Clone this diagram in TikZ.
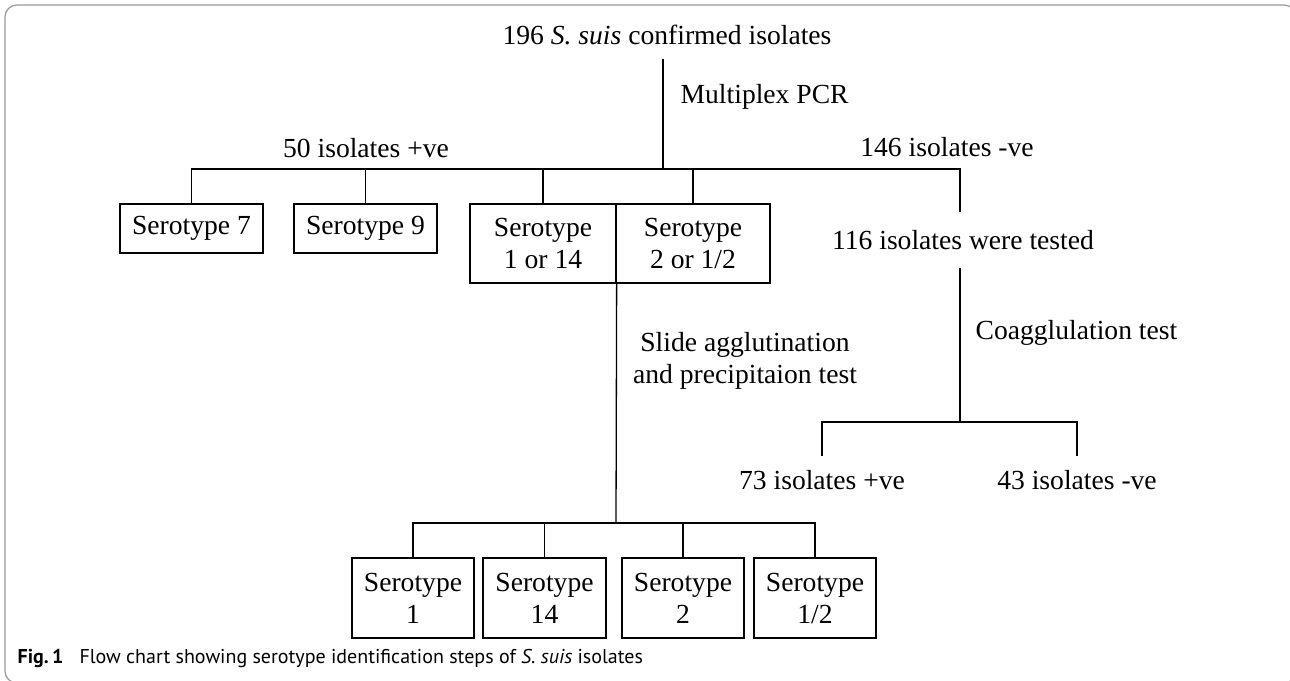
\documentclass[tikz,border=0pt]{standalone}
\usepackage{fontspec}
\setmainfont{Liberation Serif}
\newfontfamily\capfont{PT Sans}
\usepackage{tikz}

\begin{document}
\begin{tikzpicture}[x=0.5pt,y=-0.5pt,line width=0.65pt,
  box/.style={draw,inner sep=0pt,align=center,font=\fontsize{13.8}{16}\selectfont},
  lbl/.style={inner sep=0pt,align=center,font=\fontsize{13.8}{16}\selectfont}]
\useasboundingbox (0,0) rectangle (1290,680);
\draw[gray!80,line width=0.6pt,rounded corners=6pt] (5,5) rectangle (1296,683);
\node [lbl,inner ysep=6.5pt] (root) at (667,35) {196 \textit{S. suis} confirmed isolates};
\coordinate (fa) at (663,169);
\node [lbl] (pcr) at (680,97) [anchor=west] {Multiplex PCR};
\node [lbl] (pos) at (366,148) {50 isolates +ve};
\node [lbl] (neg) at (947,147) {146 isolates -ve};
\node [box,minimum width=71.5pt,minimum height=24.5pt] (s7) at (191.5,228.5) {Serotype 7};
\node [box,minimum width=71.5pt,minimum height=24.5pt] (s9) at (365.5,228.5) {Serotype 9};
\node [box,minimum width=73pt,minimum height=39.5pt] (s1x) at (543,243.5) {Serotype\\1 or 14};
\node [box,minimum width=77pt,minimum height=39.5pt] (s2x) at (693,243.5) {Serotype\\2 or 1/2};
\node [lbl,inner ysep=8.7pt] (tested) at (963,240) {116 isolates were tested};
\node [lbl] (slide) at (745,361) {Slide agglutination\\and precipitaion test};
\node [lbl] (coag) at (975,333) [anchor=west] {Coagglulation test};
\coordinate (fb) at (960,422);
\node [lbl,inner ysep=7pt] (cpos) at (822,480) {73 isolates +ve};
\node [lbl,inner ysep=7pt] (cneg) at (1077,480) {43 isolates -ve};
\coordinate (fc) at (616,523);
\node [box,minimum width=61pt,minimum height=40pt] (t1) at (413,598) {Serotype\\1};
\node [box,minimum width=61.5pt,minimum height=40pt] (t14) at (544.5,598) {Serotype\\14};
\node [box,minimum width=61pt,minimum height=40pt] (t2) at (683,598) {Serotype\\2};
\node [box,minimum width=61pt,minimum height=40pt] (t12) at (815,598) {Serotype\\1/2};
\node [inner sep=0pt,anchor=west,font=\capfont\fontsize{10}{12}\selectfont] (cap) at (17,658)
  {\textbf{Fig.\,1}\hspace{0.8em}Flow chart showing serotype identification steps of \textit{S. suis} isolates};

\draw (fa |- root.south) -- (fa);
\draw (s7.north) -- (s7.north |- fa) -- (fb |- fa) -- (fb |- tested.north);
\draw (s9.north) -- (s9.north |- fa);
\draw (s1x.north) -- (s1x.north |- fa);
\draw (s2x.north) -- (s2x.north |- fa);
\draw (fb |- tested.south) -- (fb);
\draw (cpos.north) |- (fb) -| (cneg.north);
\draw (s1x.south east) -- (fc);
\draw (t1.north) |- (fc) -| (t12.north);
\draw (t14.north) -- (t14.north |- fc);
\draw (t2.north) -- (t2.north |- fc);
\end{tikzpicture}
\end{document}
